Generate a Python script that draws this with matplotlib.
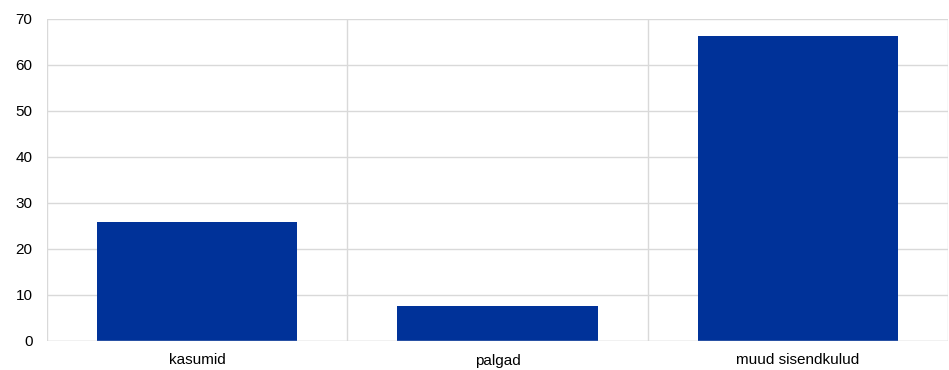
import matplotlib.pyplot as plt
import numpy as np

plt.rcParams['font.family'] = ['Liberation Sans', 'DejaVu Sans']

categories = ['kasumid', 'palgad', 'muud sisendkulud']
values = [25.9, 7.6, 66.3]
y_ticks = [0, 10, 20, 30, 40, 50, 60, 70]

fig = plt.figure(figsize=(9.49, 3.70), dpi=100)
ax = fig.add_axes([47 / 949, 29 / 370, 901 / 949, 322.5 / 370])

x = np.arange(len(categories))
ax.bar(x, values, width=0.667, color='#003299', zorder=3)

ax.set_xlim(-0.5, len(categories) - 0.5)
ax.set_ylim(0, 70)
ax.set_yticks(y_ticks)
ax.set_xticks(x)
ax.set_xticklabels(categories)

grid_color = '#d9d9d9'
ax.yaxis.grid(True, color=grid_color, linewidth=1, zorder=0)
# separators between categories
for b in np.arange(-0.5, len(categories), 1.0):
    ax.axvline(b, color=grid_color, linewidth=1, zorder=0)

for s in ax.spines.values():
    s.set_visible(False)
ax.axhline(0, color=grid_color, linewidth=1, zorder=4)

ax.tick_params(axis='both', length=0, labelsize=11, colors='#000000')
ax.tick_params(axis='x', pad=9)
ax.tick_params(axis='y', pad=10.5)

fig.savefig('out.png', dpi=100)
